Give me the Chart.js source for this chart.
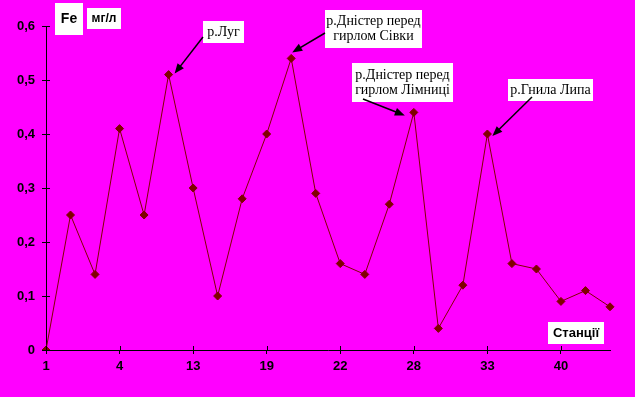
<!DOCTYPE html>
<html>
<head>
<meta charset="utf-8">
<script src="https://cdn.jsdelivr.net/npm/chart.js@4"></script>
<style>
  body { margin: 0; background: #ff00ff; }
  #wrap { width: 635px; height: 397px; }
</style>
</head>
<body>
<div id="wrap"><canvas id="fe" width="635" height="397"></canvas></div>
<script>
// station numbers (only every third one is printed on the axis)
const stations = ['1', '', '', '4', '', '', '13', '', '', '19', '', '', '22', '', '', '28', '', '', '33', '', '', '40', '', '']
// Fe, mg/l
const feValues = [0, 0.25, 0.14, 0.41, 0.25, 0.51, 0.30, 0.10, 0.28, 0.40, 0.54, 0.29,
                  0.16, 0.14, 0.27, 0.44, 0.04, 0.12, 0.40, 0.16, 0.15, 0.09, 0.11, 0.08]
const yTicks = [0, 0.1, 0.2, 0.3, 0.4, 0.5, 0.6]

// callouts: text lines and index of the point they point at
const callouts = [
    { lines: ['р.Луг'], point: 5 },
    { lines: ['р.Дністер перед', 'гирлом Сівки'], point: 10 },
    { lines: ['р.Дністер перед', 'гирлом Лімниці'], point: 15 },
    { lines: ['р.Гнила Липа'], point: 18 }
]

function arrow(ctx, x1, y1, x2, y2) {
    const a = Math.atan2(y2 - y1, x2 - x1)
    const len = 10, half = 4
    ctx.beginPath()
    ctx.moveTo(x1, y1)
    ctx.lineTo(x2 - 6 * Math.cos(a), y2 - 6 * Math.sin(a))
    ctx.stroke()
    ctx.beginPath()
    ctx.moveTo(x2, y2)
    ctx.lineTo(x2 - len * Math.cos(a) + half * Math.sin(a), y2 - len * Math.sin(a) - half * Math.cos(a))
    ctx.lineTo(x2 - len * Math.cos(a) - half * Math.sin(a), y2 - len * Math.sin(a) + half * Math.cos(a))
    ctx.closePath()
    ctx.fill()
}

function box(ctx, x, y, w, h, lines, font, lh) {
    ctx.fillStyle = '#ffffff'
    ctx.fillRect(x, y, w, h)
    ctx.fillStyle = '#000000'
    ctx.font = font
    ctx.textAlign = 'center'
    ctx.textBaseline = 'middle'
    const top = y + h / 2 - (lines.length - 1) * lh / 2
    lines.forEach((t, i) => ctx.fillText(t, x + w / 2, top + i * lh))
}

const extras = {
    id: 'extras',
    afterDraw(chart) {
        const ctx = chart.ctx
        const xs = chart.scales.x
        const ys = chart.scales.y
        const area = chart.chartArea
        ctx.save()
        ctx.strokeStyle = '#000'
        ctx.lineWidth = 1
        // inner half of the crossing tick marks
        ctx.beginPath()
        yTicks.forEach(v => {
            const py = Math.round(ys.getPixelForValue(v)) + 0.5
            ctx.moveTo(area.left, py)
            ctx.lineTo(area.left + 4, py)
        })
        stations.forEach((s, i) => {
            if (!s) return
            const px = Math.round(xs.getPixelForValue(i)) + 0.5
            ctx.moveTo(px, area.bottom)
            ctx.lineTo(px, area.bottom - 4)
        })
        ctx.stroke()

        // axis titles
        box(ctx, 55, 3, 28, 32, ['Fe'], 'bold 14px Arial, "Liberation Sans"', 14)
        box(ctx, 87, 8, 34, 21, ['мг/л'], 'bold 12px Arial, "Liberation Sans"', 14)
        box(ctx, 548, 322, 56, 22, ['Станції'], 'bold 13px Arial, "Liberation Sans"', 14)

        // callouts
        const serif = '14px "Times New Roman", "Liberation Serif", serif'
        const px = i => xs.getPixelForValue(i)
        const py = i => ys.getPixelForValue(feValues[i])
        const c = callouts
        box(ctx, 203, 21, 41, 22, c[0].lines, serif, 15)
        box(ctx, 325, 10, 97, 38, c[1].lines, serif, 15)
        box(ctx, 352, 63, 101, 39, c[2].lines, serif, 15)
        box(ctx, 508, 79, 85, 22, c[3].lines, serif, 15)
        ctx.fillStyle = '#000'
        ctx.strokeStyle = '#000'
        ctx.lineWidth = 1.5
        arrow(ctx, 203, 37, px(c[0].point) + 6, py(c[0].point) - 1)
        arrow(ctx, 325, 33, px(c[1].point) + 1, py(c[1].point) - 6)
        arrow(ctx, 363, 99, px(c[2].point) - 9, py(c[2].point) + 3)
        arrow(ctx, 532, 97, px(c[3].point) + 5, py(c[3].point) + 2)
        ctx.restore()
    }
}

const tickFont = { family: 'Arial, "Liberation Sans"', size: 13, weight: 'bold' }

new Chart(document.getElementById('fe'), {
    type: 'line',
    data: {
        labels: stations,
        datasets: [{
            data: feValues,
            borderColor: '#800000',
            backgroundColor: '#800000',
            borderWidth: 1,
            tension: 0,
            pointStyle: 'rectRot',
            pointRadius: 4,
            pointHoverRadius: 4,
            pointBackgroundColor: '#800000',
            pointBorderColor: '#800000'
        }]
    },
    options: {
        responsive: false,
        animation: false,
        events: [],
        layout: { padding: { top: 26, right: 25, left: 0, bottom: 0 } },
        plugins: { legend: { display: false }, tooltip: { enabled: false } },
        scales: {
            x: {
                offset: false,
                afterFit: s => { s.height = 47 },
                border: { color: '#000', width: 1 },
                grid: {
                    drawOnChartArea: false,
                    tickLength: 4,
                    color: c => (stations[c.index] ? '#000' : 'rgba(0,0,0,0)')
                },
                ticks: {
                    autoSkip: false,
                    maxRotation: 0,
                    padding: 5,
                    color: '#000',
                    font: tickFont
                }
            },
            y: {
                min: 0,
                max: 0.6,
                afterFit: s => { s.width = 46 },
                border: { color: '#000', width: 1 },
                grid: { drawOnChartArea: false, tickLength: 4, color: '#000' },
                ticks: {
                    stepSize: 0.1,
                    padding: 7,
                    color: '#000',
                    font: tickFont,
                    callback: v => (v === 0 ? '0' : v.toFixed(1).replace('.', ','))
                }
            }
        }
    },
    plugins: [extras]
})
</script>
</body>
</html>
